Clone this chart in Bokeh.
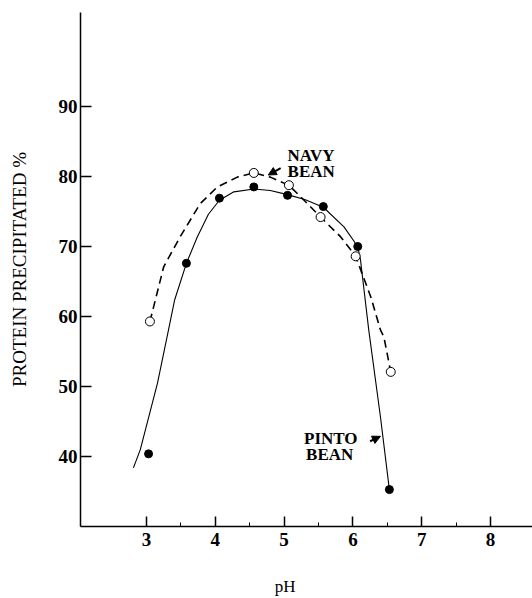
import math
from bokeh.plotting import figure
from bokeh.models import FixedTicker, Label, Arrow, NormalHead, Range1d
from bokeh.embed import file_html
from bokeh.resources import INLINE

# Measured points
pinto_x = [3.03, 3.58, 4.06, 4.56, 5.05, 5.57, 6.07, 6.53]
pinto_y = [40.4, 67.6, 76.9, 78.5, 77.3, 75.7, 70.0, 35.3]
navy_x = [3.05, 4.56, 5.07, 5.53, 6.04, 6.55]
navy_y = [59.3, 80.5, 78.75, 74.2, 68.6, 52.1]

# Hand-drawn smooth curves
pinto_curve_x = [2.81, 2.91, 3.16, 3.32, 3.41, 3.58, 3.74, 3.90, 4.06, 4.27, 4.56, 4.80, 5.05, 5.30, 5.57, 5.87, 6.07, 6.11, 6.23, 6.40, 6.53]
pinto_curve_y = [38.4, 41.0, 50.5, 58.1, 62.4, 67.6, 71.4, 74.6, 76.6, 77.8, 78.2, 78.0, 77.4, 76.7, 75.6, 72.8, 70.0, 68.1, 58.1, 45.7, 35.3]
navy_curve_x = [3.05, 3.25, 3.49, 3.78, 4.03, 4.32, 4.56, 4.80, 5.07, 5.29, 5.53, 5.82, 6.04, 6.26, 6.40, 6.45, 6.55]
navy_curve_y = [59.3, 67.1, 71.4, 76.1, 78.5, 79.9, 80.5, 79.9, 78.75, 76.6, 74.2, 71.4, 68.6, 62.8, 58.1, 57.1, 52.1]

x_ticks = [3, 4, 5, 6, 7, 8]
x_minor = [3.5, 4.5, 5.5, 6.5, 7.5]
y_ticks = [40, 50, 60, 70, 80, 90]

FONT = "Liberation Serif"

p = figure(width=532, height=598, x_range=Range1d(2.041, 8.61), y_range=Range1d(30.03, 103.4),
           output_backend="svg", toolbar_location=None,
           min_border_left=80, min_border_right=0, min_border_top=12, min_border_bottom=71)
p.outline_line_color = None
p.grid.visible = False

xa = p.xaxis[0]
xa.ticker = FixedTicker(ticks=x_ticks, minor_ticks=x_minor)
xa.major_tick_in = 10
xa.major_tick_out = 0
xa.minor_tick_in = 4
xa.minor_tick_out = 0
xa.axis_line_width = 1.5
xa.major_tick_line_width = 1.5
xa.major_label_standoff = 6
xa.major_label_text_font = FONT
xa.major_label_text_font_style = "bold"
xa.major_label_text_font_size = "19px"
xa.major_label_text_color = "black"
# trailing no-break spaces shift the centred label left to where the original has it
xa.axis_label = "pH" + "\u00a0" * 10
xa.axis_label_text_font = FONT
xa.axis_label_text_font_style = "normal"
xa.axis_label_text_font_size = "17px"
xa.axis_label_text_color = "black"
xa.axis_label_standoff = 28

ya = p.yaxis[0]
ya.ticker = FixedTicker(ticks=y_ticks, minor_ticks=[])
ya.major_tick_in = 11
ya.major_tick_out = 0
ya.minor_tick_line_color = None
ya.axis_line_width = 1.5
ya.major_tick_line_width = 1.5
ya.major_label_standoff = 3
ya.major_label_text_font = FONT
ya.major_label_text_font_style = "bold"
ya.major_label_text_font_size = "19px"
ya.major_label_text_color = "black"
ya.axis_label = "PROTEIN PRECIPITATED %"
ya.axis_label_text_font = FONT
ya.axis_label_text_font_style = "normal"
ya.axis_label_text_font_size = "19px"
ya.axis_label_text_color = "black"
ya.axis_label_standoff = 26

# curves
p.line(navy_curve_x, navy_curve_y, line_color="black", line_width=1.6, line_dash="8 5")
p.line(pinto_curve_x, pinto_curve_y, line_color="black", line_width=1.1)

# points
p.scatter(pinto_x, pinto_y, size=8, fill_color="black", line_color="black")
p.scatter(navy_x, navy_y, size=9, fill_color="white", line_color="black", line_width=1)

def lab(text, x, y, **kw):
    opts = dict(text_font=FONT, text_font_size="17px", text_font_style="bold", text_color="black")
    opts.update(kw)
    p.add_layout(Label(x=x, y=y, text=text, **opts))

lab("NAVY", 5.05, 84.3, text_baseline="top")
lab("BEAN", 5.05, 82.0, text_baseline="top")
lab("PINTO", 5.29, 43.9, text_baseline="top")
lab("BEAN", 5.32, 41.6, text_baseline="top")

p.add_layout(Arrow(end=NormalHead(size=8, fill_color="black", line_color="black"),
                   x_start=4.95, y_start=81.2, x_end=4.77, y_end=80.2, line_width=2))
p.add_layout(Arrow(end=NormalHead(size=8, fill_color="black", line_color="black"),
                   x_start=6.25, y_start=42.2, x_end=6.40, y_end=42.9, line_width=2))

open("out.html", "w").write(file_html(p, INLINE))
